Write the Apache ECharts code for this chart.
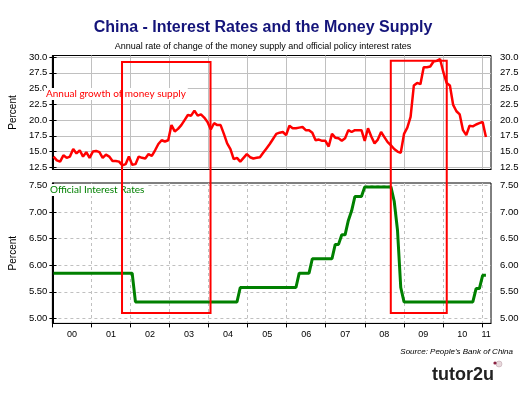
<!DOCTYPE html>
<html><head><meta charset="utf-8">
<script src="https://cdn.jsdelivr.net/npm/echarts@6/dist/echarts.min.js"></script>
<style>html,body{margin:0;padding:0;background:#fff}#c{width:526px;height:394px}</style>
</head><body><div id="c"></div>
<script>
// ---- data ----
const yearLabels = ['00','01','02','03','04','05','06','07','08','09','10','11'];
const yearTicks = [0,12,24,36,48,60,72,84,96,108,120,132];          // axis months (Jan of each year)
const yearLabelValues = [6,18,30,42,54,66,78,90,102,114,126,133.3];  // axis months where labels sit
const moneyTicks = [12.5,15,17.5,20,22.5,25,27.5,30];
const rateTicks = [5,5.5,6,6.5,7,7.5];

// monthly, Jan 2000 .. Jan 2011 (annual % growth of money supply)
const moneySupply = [
  14.2,13.6,13.4,14.4,14.0,14.2,15.4,14.7,15.2,14.2,14.9,14.0,
  15.0,15.1,14.9,14.0,14.5,14.2,13.5,13.5,13.4,12.8,13.0,14.2,
  12.9,13.0,14.2,14.0,13.9,14.6,14.3,15.2,16.2,16.8,16.6,16.8,
  19.2,18.2,18.6,19.2,20.0,20.8,20.7,21.5,20.7,20.9,20.4,19.7,
  18.5,19.5,19.2,19.2,17.8,16.3,15.4,13.8,14.0,13.4,14.0,14.6,
  14.1,13.9,14.0,14.1,14.8,15.5,16.2,17.0,17.8,18.0,18.1,17.6,
  19.1,18.7,18.7,18.8,18.9,18.4,18.4,18.0,16.8,16.9,16.7,16.7,
  15.8,17.8,17.2,17.1,16.7,17.1,18.4,18.1,18.4,18.4,18.4,16.7,
  18.7,17.4,16.3,16.9,18.1,17.3,16.5,16.0,15.4,15.0,14.8,17.8,
  18.8,20.5,25.5,25.9,25.7,28.4,28.4,28.5,29.3,29.4,29.7,27.6,
  25.9,25.5,22.4,21.4,20.9,18.4,17.6,19.1,19.0,19.3,19.5,19.7,
  17.3
];
// monthly, Jan 2000 .. Jan 2011 (official interest rate %)
const interestRates = [
  5.85,5.85,5.85,5.85,5.85,5.85,5.85,5.85,5.85,5.85,5.85,5.85,
  5.85,5.85,5.85,5.85,5.85,5.85,5.85,5.85,5.85,5.85,5.85,5.85,
  5.85,5.31,5.31,5.31,5.31,5.31,5.31,5.31,5.31,5.31,5.31,5.31,
  5.31,5.31,5.31,5.31,5.31,5.31,5.31,5.31,5.31,5.31,5.31,5.31,
  5.31,5.31,5.31,5.31,5.31,5.31,5.31,5.31,5.31,5.58,5.58,5.58,
  5.58,5.58,5.58,5.58,5.58,5.58,5.58,5.58,5.58,5.58,5.58,5.58,
  5.58,5.58,5.58,5.85,5.85,5.85,5.85,6.12,6.12,6.12,6.12,6.12,
  6.12,6.12,6.39,6.39,6.57,6.57,6.84,7.02,7.29,7.29,7.29,7.47,
  7.47,7.47,7.47,7.47,7.47,7.47,7.47,7.47,7.20,6.66,5.58,5.31,
  5.31,5.31,5.31,5.31,5.31,5.31,5.31,5.31,5.31,5.31,5.31,5.31,
  5.31,5.31,5.31,5.31,5.31,5.31,5.31,5.31,5.31,5.56,5.56,5.81,
  5.81
];
// highlight boxes (axis months / top-axis % / bottom-axis %)
const boxStart = [21.4, 104.0];
const boxEnd = [48.6, 121.2];
const boxTop = [29.2, 29.4];
const boxBottom = [5.1, 5.1];

// ---- chart ----
const FONT = '"Liberation Sans", Arial, sans-serif';
const chart = echarts.init(document.getElementById('c'), null, {renderer: 'canvas'});
const grid = [
  {left: 40, top: 55.5, width: 451, height: 114, show: true, borderColor: '#000', borderWidth: 1, backgroundColor: 'transparent'},
  {left: 40, top: 183, width: 451, height: 140.4, show: true, borderColor: '#000', borderWidth: 1, backgroundColor: 'transparent'}
];
function yearAxis(gi, showLabels, dashed) {
  return {
    type: 'value', gridIndex: gi, min: 0, max: 134.8, position: 'bottom',
    axisLine: {show: true, onZero: false, lineStyle: {color: '#000', width: 1}},
    axisTick: {show: showLabels, customValues: yearTicks, length: 4, lineStyle: {color: '#000'}},
    axisLabel: {show: showLabels, customValues: yearLabelValues, fontSize: 9, color: '#000', fontFamily: FONT, margin: 7,
      formatter: v => yearLabels[Math.min(11, Math.round((v - 6) / 12))]},
    splitLine: {show: true, lineStyle: {color: '#c0c0c0', width: 1, type: dashed ? [3, 3] : 'solid'}}
  };
}
function dataAxis(gi) {
  return {type: 'value', gridIndex: gi, min: -0.356, max: 133.55, show: false, splitLine: {show: false}};
}
function valAxis(gi, pos, min, max, ticks, dec, split, dashed, name) {
  return {
    type: 'value', gridIndex: gi, position: pos, min: min, max: max,
    name: name || '', nameLocation: 'middle', nameGap: 27,
    nameTextStyle: {fontSize: 10, color: '#000', fontFamily: FONT},
    axisLine: {show: true, lineStyle: {color: '#000', width: 1}},
    axisTick: {show: true, customValues: ticks, length: 3, lineStyle: {color: '#000'}},
    axisLabel: {customValues: ticks, fontSize: 9.5, color: '#000', fontFamily: FONT, margin: pos === 'right' ? 9 : 5,
      formatter: v => v.toFixed(dec)},
    splitLine: {show: split, lineStyle: {color: '#c0c0c0', width: 1, type: dashed ? [3, 3] : 'solid'}}
  };
}
chart.setOption({
  animation: false,
  backgroundColor: '#fff',
  title: [
    {text: 'China - Interest Rates and the Money Supply', left: 'center', top: 15,
      textStyle: {fontSize: 16, fontWeight: 'bold', color: '#14147a', fontFamily: FONT}},
    {text: 'Annual rate of change of the money supply and official policy interest rates', left: 'center', top: 37,
      textStyle: {fontSize: 9, fontWeight: 'normal', color: '#000', fontFamily: FONT}}
  ],
  grid: grid,
  xAxis: [yearAxis(0, false, false), dataAxis(0), yearAxis(1, true, true), dataAxis(1)],
  yAxis: [
    valAxis(0, 'left', 12.15, 30.25, moneyTicks, 1, true, false, 'Percent'),
    valAxis(0, 'right', 12.15, 30.25, moneyTicks, 1, false, false),
    valAxis(1, 'left', 4.906, 7.543, rateTicks, 2, true, true, 'Percent'),
    valAxis(1, 'right', 4.906, 7.543, rateTicks, 2, false, true)
  ],
  series: [
    {type: 'line', name: 'Money supply', xAxisIndex: 1, yAxisIndex: 0, showSymbol: false, symbol: 'none',
      data: moneySupply.map((v, i) => [i, v]), lineStyle: {color: '#ff0000', width: 2.5}, z: 3},
    {type: 'line', name: 'Interest rate', xAxisIndex: 3, yAxisIndex: 2, showSymbol: false, symbol: 'none',
      data: interestRates.map((v, i) => [i, v]), lineStyle: {color: '#008000', width: 3}, z: 3}
  ]
});

const g = [];
for (let k = 0; k < boxStart.length; k++) {
  const p1 = chart.convertToPixel({xAxisIndex: 0, yAxisIndex: 0}, [boxStart[k], boxTop[k]]);
  const p2 = chart.convertToPixel({xAxisIndex: 2, yAxisIndex: 2}, [boxEnd[k], boxBottom[k]]);
  g.push({type: 'rect', z: 10, shape: {x: p1[0], y: p1[1], width: p2[0] - p1[0], height: p2[1] - p1[1]},
    style: {fill: 'none', stroke: '#ff0000', lineWidth: 2}});
}
g.push({type: 'text', z: 5, left: 44, top: 88, style: {text: 'Annual growth of money supply', fill: '#ff0000',
  font: '10px Lato, "Open Sans", sans-serif', backgroundColor: '#fff', padding: [1, 2]}});
g.push({type: 'text', z: 5, left: 48, top: 184, style: {text: 'Official Interest Rates', fill: '#008000',
  font: '10px Lato, "Open Sans", sans-serif', backgroundColor: '#fff', padding: [1, 2]}});
g.push({type: 'text', z: 5, right: 13, top: 348, style: {text: "Source: People's Bank of China", fill: '#000',
  font: 'italic 8px "Liberation Sans", Arial, sans-serif'}});
g.push({type: 'text', z: 5, left: 432, top: 366, style: {text: 'tutor2u', fill: '#222',
  font: 'bold 18px "Liberation Sans", Arial, sans-serif'}});
g.push({type: 'circle', z: 5, shape: {cx: 499, cy: 364, r: 3}, style: {fill: '#e8d8dc', stroke: '#b89aa4', lineWidth: 0.5}});
g.push({type: 'circle', z: 5, shape: {cx: 495, cy: 363, r: 1.6}, style: {fill: '#8a2040'}});
chart.setOption({graphic: g});
</script></body></html>
